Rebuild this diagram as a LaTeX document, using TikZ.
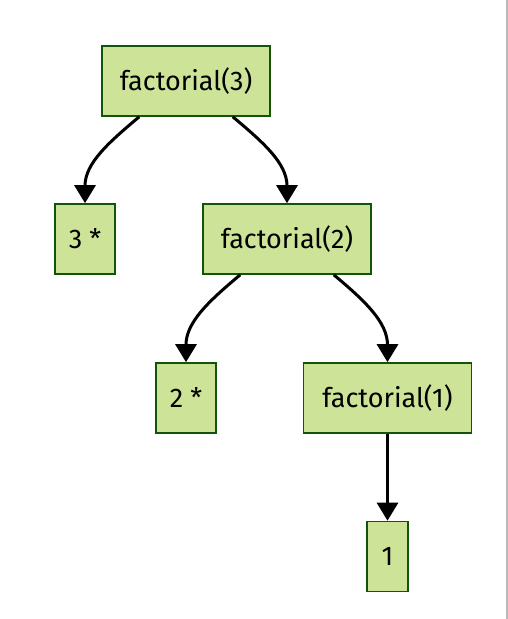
\documentclass[tikz,border=0pt]{standalone}
\usepackage{fontspec}
\setmainfont{Fira Sans}
\usetikzlibrary{arrows.meta}
\definecolor{boxfill}{HTML}{CDE498}
\definecolor{boxline}{HTML}{13540C}

\begin{document}
\begin{tikzpicture}[
  x=1pt, y=-1pt,
  box/.style={draw=boxline, fill=boxfill, line width=1.6pt, minimum height=70pt, inner sep=0pt, font=\fontsize{27}{32}\selectfont},
  wbox/.style={box, minimum width=168pt},
  nbox/.style={box, minimum width=60pt},
  arr/.style={-{Triangle[length=18pt,width=21pt]}, line width=3pt, black}
]
\useasboundingbox (0,0) rectangle (508,619);
\fill[white] (0,0) rectangle (508,619);
\draw[gray!55, line width=1.5pt] (507,0) -- (507,619);

% --- Calls ---
\node[wbox] (fact3) at (186,81) {factorial(3)};
\node[wbox] (fact2) at (287,239) {factorial(2)};
\node[wbox] (fact1) at (387.5,398) {factorial(1)};

% --- Results ---
\node[nbox] (mul3) at (85,239) {3 *};
\node[nbox] (mul2) at (186,398) {2 *};
\node[box, minimum width=41pt] (base) at (387.5,556.5) {1};

% --- Edges ---
\draw[arr] ([xshift=38pt]fact3.south west) to[out=-140,in=90] (mul3.north);
\draw[arr] ([xshift=-38pt]fact3.south east) to[out=-40,in=90] (fact2.north);
\draw[arr] ([xshift=38pt]fact2.south west) to[out=-140,in=90] (mul2.north);
\draw[arr] ([xshift=-38pt]fact2.south east) to[out=-40,in=90] (fact1.north);
\draw[arr] (fact1.south) -- (base.north);

\end{tikzpicture}
\end{document}
